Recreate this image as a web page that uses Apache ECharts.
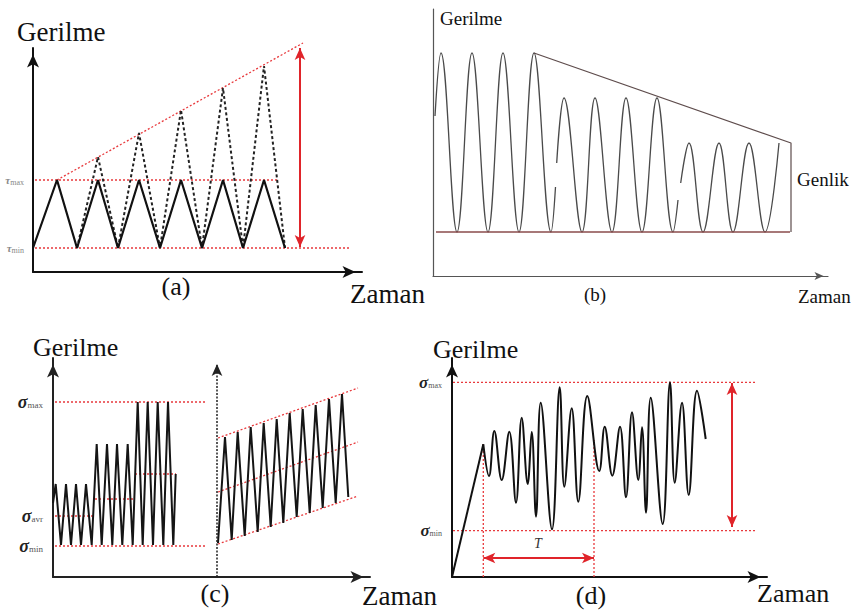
<!DOCTYPE html>
<html>
<head>
<meta charset="utf-8">
<script src="https://cdn.jsdelivr.net/npm/echarts@6/dist/echarts.min.js"></script>
<style>
html,body{margin:0;padding:0;background:#fff;}
#chart{width:851px;height:610px;}
</style>
</head>
<body>
<div id="chart"></div>
<script>
// ---------- Panel (a): time (t) / stress (s) ----------
const aSolidT = [0, 24, 44, 65, 85, 106, 127, 148, 169, 190, 210, 231, 252];
const aSolidS = [24, 92, 24, 92, 24, 92, 24, 92, 24, 92, 24, 92, 24];
const aDashT = [44, 65, 85, 106, 127, 148, 169, 190, 210, 231, 252];
const aDashS = [24, 115, 24, 139, 24, 162, 24, 184, 24, 206, 24];
const aTauMax = 92, aTauMin = 24;
const aTauMaxSpan = [2, 245];
const aTauMinSpan = [2, 317];
const aEnvT = [24, 270];
const aEnvS = [92, 229];
const aRangeT = 267;
const aRangeS = [25, 224];

// ---------- Panel (b) ----------
const bWave1T = [2, 8, 24, 39, 55, 70, 86, 101, 118, 122.5];
const bWave1S = [160, 223, 44, 223, 44, 223, 44, 223, 44, 89];
const bWave2T = [123.7, 131, 149, 162, 179, 193, 209, 224, 240, 245];
const bWave2S = [113, 178, 44, 178, 44, 178, 44, 178, 44, 76];
const bWave3T = [247.7, 256, 270, 286, 300, 316, 332, 346];
const bWave3S = [93, 133, 44, 133, 44, 133, 44, 133];
const bBaseT = [3, 357];
const bBaseS = [44, 44];
const bEnvT = [101, 358, 358];
const bEnvS = [223, 133, 44];

// ---------- Panel (c) ----------
const cLeftT = [0, 2.7, 8, 13, 18, 23, 28, 33, 38.7, 43.7, 48.7, 54, 59.3, 64, 69.3, 74.7, 79.7, 84.7, 89.7, 94.7, 100, 104.7, 110.3, 115, 120.3, 122.7];
const cLeftS = [74, 93, 32, 93, 32, 93, 32, 93, 32, 133, 32, 133, 32, 133, 32, 133, 32, 175, 32, 175, 32, 175, 32, 175, 32, 103];
const cRightT = [165, 172, 178.7, 184.7, 191.7, 197.7, 204.7, 210.7, 217.7, 223.7, 230.3, 236.7, 243.7, 249.7, 256.7, 262.7, 269.7, 276, 282.7, 289, 295.3];
const cRightS = [34, 140, 37, 145, 41, 150, 45, 154, 50, 158, 54, 164, 60, 168, 64, 172, 69, 178, 74, 183, 80];
const cSigmaMax = 175, cSigmaAvr = 61, cSigmaMin = 31;
const cRefSpan = [2, 154];
const cMeanSpans = [[2, 40], [42, 81], [82, 123]];
const cMeanS = [61, 78, 103];
const cBandT = [165, 305];
const cBandUpper = [139, 189];
const cBandMid = [85, 135];
const cBandLower = [33, 81];
const cDividerT = 164;

// ---------- Panel (d) ----------
const dRampT = [0, 31.3];
const dRampS = [0, 132.7];
const dSignalT = [31.3, 37, 42.3, 49.7, 57.3, 64, 69.7, 75.7, 79.7, 84, 88.7, 100, 107.7, 112.3, 119.7, 126.3, 135.3, 147.3, 152.7, 160.3, 168, 174, 180, 186.3, 190, 194, 198.7, 210.7, 218, 222.7, 230, 236.7, 245, 253.7];
const dSignalS = [132.7, 101, 146, 97, 145.3, 74.3, 159.3, 93, 145, 60.3, 174.3, 47.7, 189.7, 90.3, 168.7, 75.3, 181, 106, 150.3, 101.3, 150.3, 79.7, 164.7, 97, 149.7, 64.3, 179.3, 53, 194.7, 94.3, 174.3, 82, 186.3, 138];
const dSigmaMax = 194.7, dSigmaMin = 46.3;
const dRefSpan = [1, 305];
const dPeriodT = [31.3, 142];
const dPeriodTop = [132.7, 137];
const dRangeT = 280;
const dRangeS = [50, 194];
const dPeriodS = 19;

// ---------- helpers ----------
const SERIF = 'Liberation Serif';
const RED = '#e8393c';
const ARROW_RED = '#e0242a';
function pairs(xs, ys) { return xs.map((x, i) => [x, ys[i]]); }
function hline(span, v) { return [[span[0], v], [span[1], v]]; }
function vline(t, span) { return [[t, span[0]], [t, span[1]]]; }

function lineSeries(g, data, style, extra) {
  return Object.assign({
    type: 'line', xAxisIndex: g, yAxisIndex: g, data: data,
    symbol: 'none', showSymbol: false, silent: true, clip: false,
    lineStyle: style, emphasis: {disabled: true}
  }, extra || {});
}
function redDotted(g, data) {
  return lineSeries(g, data, {color: RED, width: 1.3, type: [2, 2]}, {z: 1});
}
function arrowMark(from, to, style) {
  return {
    silent: true, symbol: ['arrow', 'arrow'], symbolSize: [8, 12],
    label: {show: false}, emphasis: {disabled: true},
    lineStyle: Object.assign({type: 'solid'}, style),
    data: [[{coord: from}, {coord: to}]]
  };
}

const grids = [
  {left: 33, top: 48, width: 329, height: 224},
  {left: 433, top: 9, width: 395, height: 267},
  {left: 53, top: 358, width: 317, height: 219},
  {left: 452, top: 358, width: 315, height: 219}
];
const axStyle = [
  {color: '#111', width: 2},
  {color: '#555', width: 1.2},
  {color: '#222', width: 2},
  {color: '#111', width: 2}
];
const arrowSize = [[9, 13], [6, 9], [9, 13], [9, 13]];

function sigmaRich(col, size, subSize, subCol) {
  return {
    s: {fontFamily: SERIF, fontStyle: 'italic', fontWeight: 'bold', fontSize: size, color: col},
    sub: {fontFamily: SERIF, fontSize: subSize, color: subCol, padding: [Math.round(size * 0.35), 0, 0, 0]}
  };
}

const yLabelCfg = [
  {values: [aTauMin, aTauMax], names: {[aTauMin]: 'min', [aTauMax]: 'max'}, sym: 'τ', rich: sigmaRich('#888', 11, 8, '#888'), margin: 9, color: '#888'},
  null,
  {values: [cSigmaMin, cSigmaAvr, cSigmaMax], names: {[cSigmaMin]: 'min', [cSigmaAvr]: 'avr', [cSigmaMax]: 'max'}, sym: 'σ', rich: sigmaRich('#222', 18, 9, '#555'), margin: 10, color: '#444'},
  {values: [dSigmaMin, dSigmaMax], names: {[dSigmaMin]: 'min', [dSigmaMax]: 'max'}, sym: 'σ', rich: sigmaRich('#222', 17, 8, '#555'), margin: 10, color: '#444'}
];

const xAxes = grids.map((g, i) => ({
  gridIndex: i, type: 'value', min: 0, max: g.width,
  axisLine: {show: true, onZero: false, lineStyle: axStyle[i], symbol: ['none', 'arrow'],
    symbolSize: arrowSize[i], symbolOffset: [0, -arrowSize[i][1] / 2]},
  axisTick: {show: false}, axisLabel: {show: false}, splitLine: {show: false}
}));
const yAxes = grids.map((g, i) => {
  const cfg = yLabelCfg[i];
  const ax = {
    gridIndex: i, type: 'value', min: 0, max: g.height,
    axisLine: {show: true, onZero: false, lineStyle: axStyle[i],
      symbol: i === 1 ? ['none', 'none'] : ['none', 'arrow'],
      symbolSize: arrowSize[i], symbolOffset: [0, -arrowSize[i][1] / 2]},
    axisTick: {show: false}, splitLine: {show: false},
    axisLabel: {show: false}
  };
  if (cfg) {
    ax.axisLabel = {
      show: true, customValues: cfg.values, margin: cfg.margin, color: cfg.color,
      formatter: v => '{s|' + cfg.sym + '}{sub|' + cfg.names[v] + '}',
      rich: cfg.rich
    };
  }
  return ax;
});

const series = [
  // (a)
  lineSeries(0, pairs(aDashT, aDashS), {color: '#222', width: 2, type: [3, 2.5]}),
  lineSeries(0, pairs(aSolidT, aSolidS), {color: '#111', width: 2.2}),
  redDotted(0, hline(aTauMaxSpan, aTauMax)),
  redDotted(0, hline(aTauMinSpan, aTauMin)),
  Object.assign(redDotted(0, pairs(aEnvT, aEnvS)), {
    markLine: arrowMark([aRangeT, aRangeS[0]], [aRangeT, aRangeS[1]], {color: ARROW_RED, width: 2})
  }),
  // (b)
  lineSeries(1, pairs(bWave1T, bWave1S), {color: '#4a4a4a', width: 1.3}, {smooth: 0.4}),
  lineSeries(1, pairs(bWave2T, bWave2S), {color: '#4a4a4a', width: 1.3}, {smooth: 0.4}),
  lineSeries(1, pairs(bWave3T, bWave3S), {color: '#4a4a4a', width: 1.3}, {smooth: 0.4}),
  lineSeries(1, pairs(bBaseT, bBaseS), {color: '#8a4b4b', width: 1.3}),
  lineSeries(1, pairs(bEnvT, bEnvS), {color: '#5e4c4c', width: 1.2}),
  // (c)
  lineSeries(2, pairs(cLeftT, cLeftS), {color: '#151515', width: 2}),
  lineSeries(2, pairs(cRightT, cRightS), {color: '#151515', width: 2}),
  redDotted(2, hline(cRefSpan, cSigmaMax)),
  redDotted(2, hline(cRefSpan, cSigmaMin)),
  ...cMeanSpans.map((sp, i) => redDotted(2, hline(sp, cMeanS[i]))),
  redDotted(2, pairs(cBandT, cBandUpper)),
  redDotted(2, pairs(cBandT, cBandMid)),
  Object.assign(redDotted(2, pairs(cBandT, cBandLower)), {
    markLine: {
      silent: true, symbol: ['none', 'arrow'], symbolSize: [8, 12],
      label: {show: false}, emphasis: {disabled: true},
      lineStyle: {color: '#222', width: 1.5, type: [2, 1.5]},
      data: [[{coord: [cDividerT, 0]}, {coord: [cDividerT, grids[2].height - 6]}]]
    }
  }),
  // (d)
  lineSeries(3, pairs(dRampT, dRampS), {color: '#111', width: 2}),
  lineSeries(3, pairs(dSignalT, dSignalS), {color: '#111', width: 2}, {smooth: 0.4}),
  redDotted(3, hline(dRefSpan, dSigmaMax)),
  Object.assign(redDotted(3, hline(dRefSpan, dSigmaMin)), {
    markLine: arrowMark([dRangeT, dRangeS[0]], [dRangeT, dRangeS[1]], {color: ARROW_RED, width: 2})
  }),
  redDotted(3, vline(dPeriodT[0], [0, dPeriodTop[0]])),
  Object.assign(redDotted(3, vline(dPeriodT[1], [0, dPeriodTop[1]])), {
    markLine: arrowMark([dPeriodT[0], dPeriodS], [dPeriodT[1], dPeriodS], {color: ARROW_RED, width: 2})
  })
];

function txt(text, x, y, size, align, extra) {
  return {
    type: 'text', x: x, y: y, silent: true,
    style: Object.assign({text: text, fontFamily: SERIF, fontSize: size, fill: '#111',
      align: align || 'left', verticalAlign: 'middle'}, extra || {})
  };
}

const graphics = [
  txt('Gerilme', 17, 32, 27),
  txt('(a)', 176, 286, 26, 'center'),
  txt('Zaman', 350, 294, 27),
  txt('Gerilme', 440, 18, 19),
  txt('(b)', 595, 294, 19, 'center'),
  txt('Zaman', 798, 296, 19),
  txt('Genlik', 797, 179, 19),
  txt('Gerilme', 33, 347, 26),
  txt('(c)', 215, 593, 26, 'center'),
  txt('Zaman', 362, 596, 27),
  txt('Gerilme', 433, 349, 26),
  txt('(d)', 591, 595, 26, 'center'),
  txt('Zaman', 757, 593, 26),
  txt('T', 538, 543, 14, 'center', {fontStyle: 'italic', fill: '#333'})
];

const chart = echarts.init(document.getElementById('chart'), null, {renderer: 'svg'});
chart.setOption({
  animation: false,
  backgroundColor: '#ffffff',
  grid: grids.map(g => Object.assign({containLabel: false}, g)),
  xAxis: xAxes,
  yAxis: yAxes,
  series: series,
  graphic: graphics
});
</script>
</body>
</html>
